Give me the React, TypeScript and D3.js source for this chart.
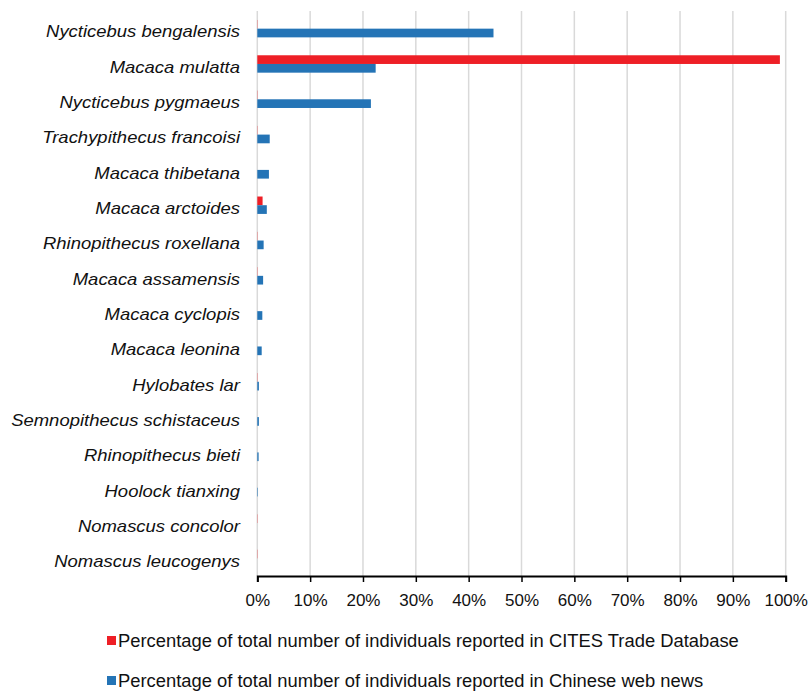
import { useEffect, useRef } from "react";
import * as d3 from "d3";

const species = [
  "Nycticebus bengalensis",
  "Macaca mulatta",
  "Nycticebus pygmaeus",
  "Trachypithecus francoisi",
  "Macaca thibetana",
  "Macaca arctoides",
  "Rhinopithecus roxellana",
  "Macaca assamensis",
  "Macaca cyclopis",
  "Macaca leonina",
  "Hylobates lar",
  "Semnopithecus schistaceus",
  "Rhinopithecus bieti",
  "Hoolock tianxing",
  "Nomascus concolor",
  "Nomascus leucogenys",
];

// percentage, CITES Trade Database
const citesPct = [0.05, 98.9, 0.05, 0.05, 0, 1.0, 0.05, 0.05, 0, 0, 0.05, 0, 0, 0, 0.05, 0.05];
// percentage, Chinese web news
const newsPct = [44.7, 22.4, 21.5, 2.35, 2.2, 1.8, 1.2, 1.1, 0.95, 0.83, 0.3, 0.3, 0.25, 0.1, 0, 0];

const xTicks = [0, 10, 20, 30, 40, 50, 60, 70, 80, 90, 100];

const seriesNames = [
  "Percentage of total number of individuals reported in CITES Trade Database",
  "Percentage of total number of individuals reported in Chinese web news",
];
const colors = ["#ee1f26", "#2474b6"];

const W = 810;
const H = 692;

export default function App() {
  const ref = useRef<SVGSVGElement>(null);

  useEffect(() => {
    const svg = d3.select(ref.current);
    svg.selectAll("*").remove();

    const left = 257.3, right = 785.7, top = 11, bottom = 576;

    const x = d3.scaleLinear().domain([0, 100]).range([left, right]);
    const y = d3.scaleBand<string>().domain(species).range([top, bottom]);
    const inner = d3.scaleBand<number>().domain([0, 1]).range([-8.7, 8.7]);

    const g = svg.append("g");

    // gridlines
    g.selectAll("line.grid")
      .data(xTicks)
      .enter()
      .append("line")
      .attr("class", "grid")
      .attr("x1", d => x(d))
      .attr("x2", d => x(d))
      .attr("y1", top)
      .attr("y2", bottom)
      .attr("stroke", "#d9d9d9")
      .attr("stroke-width", 1.5);

    const rows = species.map((s, i) => ({ s, vals: [citesPct[i], newsPct[i]] }));

    const rowG = g.selectAll("g.row")
      .data(rows)
      .enter()
      .append("g")
      .attr("transform", d => `translate(0, ${y(d.s)! + y.bandwidth() / 2})`);

    rowG.selectAll("rect")
      .data(d => d.vals.map((v, k) => ({ v, k })))
      .enter()
      .append("rect")
      .attr("x", x(0))
      .attr("y", d => inner(d.k)!)
      .attr("width", d => x(d.v) - x(0))
      .attr("height", inner.bandwidth())
      .attr("fill", d => colors[d.k]);

    // category labels (source text is a bit stretched horizontally)
    rowG.append("text")
      .attr("transform", "translate(240, 3) scale(1.12, 1)")
      .attr("dy", "0.35em")
      .attr("text-anchor", "end")
      .attr("font-style", "italic")
      .attr("font-size", 16.5)
      .attr("fill", "#111")
      .text(d => d.s);

    // x axis
    const xAxis = d3.axisBottom(x)
      .tickValues(xTicks)
      .tickSize(6)
      .tickPadding(12)
      .tickFormat(d => `${d}%`);
    const ax = g.append("g")
      .attr("transform", `translate(0, ${bottom})`)
      .call(xAxis);
    ax.select(".domain").attr("stroke", "#000").attr("stroke-width", 2);
    ax.selectAll(".tick line").attr("stroke", "#000").attr("stroke-width", 1.5);
    ax.selectAll(".tick text")
      .attr("font-size", 17)
      .attr("font-family", "Liberation Sans, Arial, sans-serif")
      .attr("fill", "#111");

    // legend
    const leg = g.selectAll("g.leg")
      .data(seriesNames)
      .enter()
      .append("g")
      .attr("transform", (d, i) => `translate(107, ${641 + i * 40})`);
    leg.append("rect")
      .attr("x", 0)
      .attr("y", -5)
      .attr("width", 9)
      .attr("height", 9)
      .attr("fill", (d, i) => colors[i]);
    leg.append("text")
      .attr("transform", "translate(11, 0) scale(1.05, 1)")
      .attr("dy", "0.35em")
      .attr("font-size", 17.5)
      .attr("fill", "#111")
      .text(d => d);
  }, []);

  return (
    <svg
      ref={ref}
      width={W}
      height={H}
      style={{ position: "absolute", left: 0, top: 0, background: "#fff" }}
      fontFamily="Liberation Sans, Arial, sans-serif"
    />
  );
}
